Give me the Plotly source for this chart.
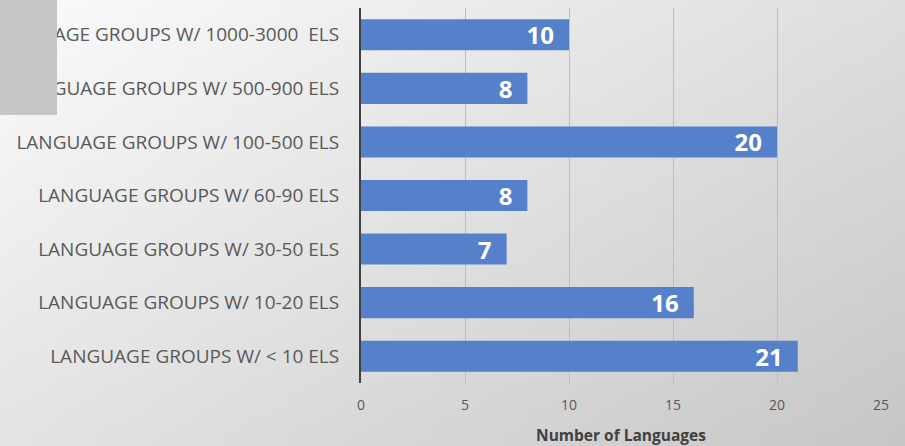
import base64, struct, zlib
import plotly.graph_objects as go

categories = [
    "LANGUAGE GROUPS W/ 1000-3000  ELS",
    "LANGUAGE GROUPS W/ 500-900 ELS",
    "LANGUAGE GROUPS W/ 100-500 ELS",
    "LANGUAGE GROUPS W/ 60-90 ELS",
    "LANGUAGE GROUPS W/ 30-50 ELS",
    "LANGUAGE GROUPS W/ 10-20 ELS",
    "LANGUAGE GROUPS W/ < 10 ELS",
]
values = [10, 8, 20, 8, 7, 16, 21]
x_ticks = [0, 5, 10, 15, 20, 25]
x_title = "Number of Languages"

W, H = 905, 446
ML, MR, MT, MB = 361, 24, 8, 63
PW, PH = W - ML - MR, H - MT - MB


def gradient_png(w=96, h=48):
    rows = b""
    for j in range(h):
        row = b"\x00"
        for i in range(w):
            t = 0.55 * i / (w - 1) + 0.45 * j / (h - 1)
            v = int(round(251 - 52 * t))
            row += bytes([v, v, v])
        rows += row

    def chunk(tag, data):
        c = tag + data
        return struct.pack(">I", len(data)) + c + struct.pack(">I", zlib.crc32(c) & 0xFFFFFFFF)

    png = b"\x89PNG\r\n\x1a\n"
    png += chunk(b"IHDR", struct.pack(">IIBBBBB", w, h, 8, 2, 0, 0, 0))
    png += chunk(b"IDAT", zlib.compress(rows, 9))
    png += chunk(b"IEND", b"")
    return "data:image/png;base64," + base64.b64encode(png).decode()


fig = go.Figure(
    go.Bar(
        x=values,
        y=categories,
        orientation="h",
        marker=dict(color="#5680C9", line=dict(width=0)),
        texttemplate="%{x}\u2002",
        textposition="inside",
        insidetextanchor="end",
        textangle=0,
        constraintext="none",
        textfont=dict(family="Open Sans", size=24, color="white", weight="bold"),
        width=0.58,
    )
)


def px_x(p):
    return (p - ML) / PW


def px_y(p):
    return 1 - (p - MT) / PH


fig.update_layout(
    width=W,
    height=H,
    margin=dict(l=ML, r=MR, t=MT, b=MB, autoexpand=False),
    paper_bgcolor="#e6e6e6",
    plot_bgcolor="rgba(0,0,0,0)",
    showlegend=False,
    images=[
        dict(
            source=gradient_png(),
            xref="paper",
            yref="paper",
            x=px_x(0),
            y=px_y(0),
            sizex=W / PW,
            sizey=H / PH,
            sizing="stretch",
            xanchor="left",
            yanchor="top",
            layer="below",
        )
    ],
    shapes=[
        dict(
            type="rect",
            xref="paper",
            yref="paper",
            x0=px_x(0),
            x1=px_x(57),
            y0=px_y(115),
            y1=px_y(0),
            fillcolor="#c6c6c6",
            line=dict(width=0),
            layer="above",
        )
    ],
    xaxis=dict(
        range=[0, 25],
        tickvals=x_ticks,
        showgrid=True,
        gridcolor="#bdbdbd",
        gridwidth=1,
        zeroline=False,
        showline=False,
        automargin=False,
        tickfont=dict(family="Open Sans", size=14, color="#595959"),
        ticklabelstandoff=12,
        title=dict(
            text=x_title,
            font=dict(family="Open Sans", size=15.5, color="#404040", weight="bold"),
            standoff=17,
        ),
        fixedrange=True,
    ),
    yaxis=dict(
        categoryorder="array",
        categoryarray=categories[::-1],
        showline=True,
        linecolor="#404040",
        linewidth=2,
        showgrid=False,
        automargin=False,
        ticks="",
        tickfont=dict(family="Open Sans", size=19, color="#595959"),
        ticklabelstandoff=16,
        fixedrange=True,
    ),
)

fig.write_html("out.html")
